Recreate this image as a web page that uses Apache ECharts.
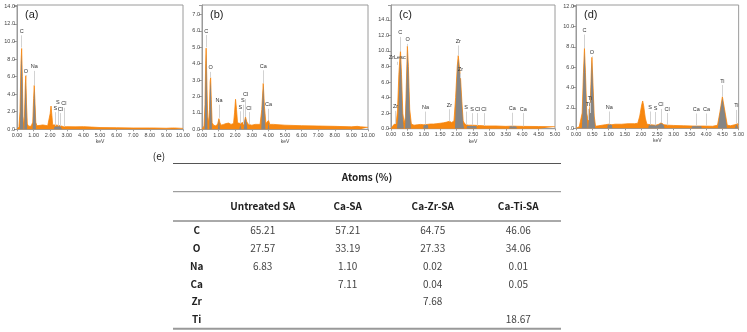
<!DOCTYPE html>
<html lang="en">
<head>
<meta charset="UTF-8">
<title>EDS spectra</title>
<script src="https://cdn.jsdelivr.net/npm/echarts@6/dist/echarts.min.js"></script>
</head>
<body style="margin:0;background:#fff">
<div id="main" style="width:747px;height:332px"></div>
<script type="text/javascript">
// spectra: [keV, counts]
var specA = [[0,0],[0.05,0.1],[0.12,0.3],[0.18,2.0],[0.24,7.5],[0.28,9.2],[0.32,6.0],[0.36,1.5],[0.40,0.5],[0.45,1.5],[0.50,5.0],[0.53,6.1],[0.57,3.0],[0.62,0.6],[0.70,0.35],[0.85,0.35],[0.95,0.8],[1.0,3.5],[1.04,5.0],[1.08,3.2],[1.13,0.8],[1.2,0.4],[1.4,0.45],[1.55,0.5],[1.7,0.45],[1.85,0.4],[1.95,0.5],[2.0,1.8],[2.05,2.65],[2.1,1.6],[2.15,0.5],[2.25,0.4],[2.31,0.5],[2.4,0.35],[2.62,0.4],[2.8,0.3],[3.0,0.3],[3.5,0.28],[4.0,0.3],[4.5,0.25],[5,0.2],[6,0.18],[7,0.15],[8,0.15],[8.1,0.22],[8.2,0.15],[9,0.12],[9.35,0.15],[9.42,0.3],[9.5,0.15],[10,0.1]];
var peaksA = [[0.17,0],[0.2,2],[0.24,6.8],[0.28,8.6],[0.32,5.5],[0.36,1.0],[0.39,0],null,[0.44,0],[0.48,3],[0.53,5.7],[0.57,2.6],[0.61,0],null,[0.94,0],[0.98,1.5],[1.04,4.7],[1.09,2.6],[1.14,0],null,[2.22,0],[2.26,0.3],[2.31,0.45],[2.38,0.3],[2.6,0.35],[2.7,0.25],[2.72,0]];
var marksA = [['C',0.28,9.3,10.7],['O',0.53,6.05,6.15],['Na',1.04,5.0,6.65],['S',2.31,0.4,1.95],['S',2.46,0.4,2.55],['Cl',2.62,0.35,1.85],['Cl',2.82,0.3,2.45]];

var specB = [[0,0],[0.05,0.05],[0.12,0.2],[0.18,1.5],[0.22,4.0],[0.25,4.95],[0.29,3.0],[0.34,0.8],[0.40,0.4],[0.45,1.2],[0.49,2.9],[0.52,3.15],[0.56,1.8],[0.61,0.4],[0.7,0.25],[0.85,0.2],[0.95,0.35],[1.02,0.65],[1.08,0.4],[1.15,0.25],[1.3,0.3],[1.45,0.35],[1.6,0.38],[1.75,0.3],[1.9,0.35],[1.96,1.0],[2.02,1.83],[2.08,1.2],[2.14,0.4],[2.2,0.3],[2.31,0.35],[2.4,0.25],[2.55,0.45],[2.62,0.75],[2.7,0.45],[2.8,0.3],[3.0,0.25],[3.2,0.3],[3.3,0.25],[3.5,0.3],[3.6,1.2],[3.69,2.8],[3.76,1.4],[3.85,0.35],[3.95,0.35],[4.01,0.55],[4.08,0.3],[4.3,0.3],[5,0.25],[6,0.22],[7,0.2],[8,0.18],[8.1,0.2],[9,0.15],[9.35,0.18],[9.45,0.25],[9.55,0.15],[10,0.12]];
var peaksB = [[0.16,0],[0.2,2.2],[0.25,4.7],[0.29,2.6],[0.33,0],null,[0.44,0],[0.48,2.4],[0.52,2.95],[0.56,1.5],[0.6,0],null,[0.96,0],[1.02,0.6],[1.08,0],null,[2.25,0],[2.31,0.3],[2.37,0],null,[2.52,0],[2.58,0.5],[2.62,0.7],[2.68,0.4],[2.73,0],null,[3.57,0],[3.62,1.4],[3.69,2.7],[3.75,1.3],[3.82,0],null,[3.96,0],[4.01,0.45],[4.06,0]];
var marksB = [['C',0.25,5.0,5.75],['O',0.52,3.15,3.5],['Na',1.02,0.7,1.5],['S',2.31,0.35,1.1],['S',2.46,0.3,1.5],['Cl',2.62,0.75,1.85],['Cl',2.82,0.3,1.05],['Ca',3.69,2.8,3.6],['Ca',4.01,0.55,1.25]];

var specC = [[0,0],[0.04,0.1],[0.08,0.5],[0.12,0.6],[0.16,0.7],[0.2,2.5],[0.24,7.0],[0.27,9.0],[0.29,10.0],[0.32,7.0],[0.36,2.0],[0.4,0.7],[0.44,1.5],[0.47,6.0],[0.5,10.6],[0.53,8.0],[0.57,2.5],[0.62,0.6],[0.7,0.45],[0.8,0.5],[0.9,0.55],[1.0,0.5],[1.1,0.55],[1.2,0.6],[1.3,0.6],[1.4,0.65],[1.5,0.7],[1.6,0.75],[1.7,0.85],[1.78,0.95],[1.85,0.8],[1.92,1.0],[1.97,4.0],[2.02,8.0],[2.05,9.4],[2.08,8.2],[2.12,6.5],[2.16,3.5],[2.2,1.0],[2.25,0.6],[2.35,0.45],[2.5,0.45],[2.7,0.4],[2.9,0.35],[3.2,0.35],[3.5,0.3],[3.7,0.33],[4.0,0.3],[4.5,0.28],[5,0.25]];
var peaksC = [[0.18,0],[0.22,1.5],[0.25,5.5],[0.28,9.5],[0.31,7.5],[0.35,1.8],[0.39,0],null,[0.43,0],[0.46,4],[0.5,10.2],[0.53,7.5],[0.57,2],[0.61,0],null,[0.98,0],[1.0,0.45],[1.12,0.5],[1.14,0],null,[1.95,0],[1.98,3.5],[2.02,7.6],[2.05,9.0],[2.08,7.8],[2.12,6.2],[2.16,3.0],[2.2,0.6],[2.23,0],null,[2.3,0],[2.32,0.35],[2.6,0.35],[2.62,0],null,[3.6,0],[3.62,0.3],[3.82,0.28],[3.84,0]];
var marksC = [['ZrLesc',0.19,8.2,8.6],['C',0.28,9.9,11.8],['O',0.51,10.6,10.9],['Zr',0.14,0.6,2.3],['Na',1.05,0.55,2.2],['Zr',1.78,0.95,2.5],['Zr',2.05,9.4,10.7],['Zr',2.12,6.5,7.1],['S',2.29,0.5,2.2],['S',2.47,0.45,2.0],['Cl',2.64,0.4,2.0],['Cl',2.83,0.35,2.0],['Ca',3.7,0.33,2.05],['Ca',4.03,0.3,2.0]];

var specD = [[0,0],[0.05,0.05],[0.1,0.15],[0.15,0.3],[0.19,1.5],[0.23,5.5],[0.26,7.85],[0.29,5.5],[0.33,1.5],[0.37,0.8],[0.4,1.2],[0.44,2.5],[0.47,5.5],[0.49,6.97],[0.52,4.5],[0.56,1.2],[0.6,0.2],[0.7,0.25],[0.8,0.3],[0.9,0.35],[1.0,0.4],[1.1,0.35],[1.2,0.4],[1.4,0.4],[1.6,0.45],[1.8,0.45],[1.9,0.5],[1.96,1.2],[2.02,2.3],[2.05,2.68],[2.08,2.2],[2.13,1.0],[2.18,0.4],[2.3,0.35],[2.45,0.3],[2.55,0.4],[2.62,0.55],[2.7,0.35],[2.85,0.3],[3.0,0.28],[3.3,0.25],[3.6,0.22],[3.9,0.22],[4.2,0.2],[4.35,0.3],[4.42,1.5],[4.5,3.1],[4.57,1.8],[4.65,0.3],[4.75,0.25],[4.88,0.35],[4.93,0.5],[4.97,0.45],[5,0.35]];
var peaksD = [[0.18,0],[0.2,1.5],[0.23,5.2],[0.26,7.5],[0.29,5.2],[0.33,1.2],[0.36,0],null,[0.37,0],[0.4,1.0],[0.44,2.3],[0.47,5.2],[0.49,6.7],[0.52,4.2],[0.56,1.0],[0.59,0],null,[0.96,0],[0.98,0.35],[1.1,0.35],[1.12,0],null,[2.22,0],[2.24,0.3],[2.5,0.28],[2.55,0.35],[2.62,0.5],[2.7,0.3],[2.72,0],null,[3.55,0],[3.57,0.2],[3.85,0.2],[3.87,0],null,[4.36,0],[4.42,1.4],[4.5,2.95],[4.57,1.6],[4.64,0],null,[4.88,0],[4.93,0.4],[4.98,0]];
var marksD = [['C',0.26,7.85,9.2],['O',0.49,6.97,7.05],['Ti',0.43,1.5,2.5],['Ti',0.37,0.8,1.9],['Na',1.02,0.4,1.65],['S',2.28,0.35,1.65],['S',2.45,0.3,1.6],['Cl',2.61,0.55,1.9],['Cl',2.8,0.3,1.5],['Ca',3.7,0.22,1.45],['Ca',4.01,0.22,1.45],['Ti',4.5,3.1,4.25],['Ti',4.93,0.5,1.8]];

var panelNames = ['(a)','(b)','(c)','(d)'];
var xMax = [10, 10, 5, 5];
var xStep = [1, 1, 0.5, 0.5];
var yMax = [14.15, 7.58, 15.9, 12.1];
var yStep = [2, 1, 2, 2];

// table (e)
var tableCols = ['Untreated SA', 'Ca-SA', 'Ca-Zr-SA', 'Ca-Ti-SA'];
var tableRows = ['C', 'O', 'Na', 'Ca', 'Zr', 'Ti'];
var untreatedSA = ['65.21', '27.57', '6.83', '', '', ''];
var caSA = ['57.21', '33.19', '1.10', '7.11', '', ''];
var caZrSA = ['64.75', '27.33', '0.02', '0.04', '7.68', ''];
var caTiSA = ['46.06', '34.06', '0.01', '0.05', '', '18.67'];

var orange = '#f7870f';
var grey = '#858585';
var gridPos = [[17, 166], [202, 166], [391, 164], [576, 163]];
var gridBottom = [129.3, 129.3, 128.7, 128.3];
var specs = [specA, specB, specC, specD];
var peaks = [peaksA, peaksB, peaksC, peaksD];
var marks = [marksA, marksB, marksC, marksD];

var grids = [], xAxes = [], yAxes = [], series = [], graphic = [];

for (var i = 0; i < 4; i++) {
    grids.push({
        left: gridPos[i][0], width: gridPos[i][1], top: 5, height: gridBottom[i] - 5,
        show: true, borderColor: '#9a9a9a', borderWidth: 1, backgroundColor: '#fff'
    });
    xAxes.push({
        type: 'value', gridIndex: i, min: 0, max: xMax[i], interval: xStep[i],
        name: 'keV', nameLocation: 'middle', nameGap: 10,
        nameTextStyle: {fontSize: 5, color: '#444'},
        axisLine: {lineStyle: {color: '#9a9a9a'}},
        axisTick: {length: 2, lineStyle: {color: '#9a9a9a'}},
        splitLine: {show: false},
        axisLabel: {fontSize: 5.5, color: '#444', margin: 3,
            formatter: function (v) { return v.toFixed(2); }}
    });
    (function (step) {
        yAxes.push({
            type: 'value', gridIndex: i, min: 0, max: yMax[i], interval: step,
            axisLine: {show: true, lineStyle: {color: '#9a9a9a'}},
            axisTick: {show: true, length: 3, lineStyle: {color: '#9a9a9a'}},
            splitLine: {show: false},
            axisLabel: {fontSize: 5.5, color: '#444', margin: 2,
                formatter: function (v) {
                    return Math.abs(v / step - Math.round(v / step)) < 1e-6 ? v.toFixed(1) : '';
                }}
        });
    })(yStep[i]);

    series.push({
        type: 'line', xAxisIndex: i, yAxisIndex: i, data: specs[i],
        symbol: 'none', smooth: false, z: 2,
        lineStyle: {color: orange, width: 0.8},
        areaStyle: {color: orange, opacity: 1},
        markLine: {
            silent: true, symbol: ['none', 'none'], animation: false,
            lineStyle: {color: '#d2d2d2', width: 1, type: 'solid'},
            label: {position: 'end', distance: 1, fontSize: 5.5, color: '#333',
                formatter: function (p) { return p.name; }},
            data: marks[i].map(function (m) {
                return [{name: m[0], coord: [m[1], m[2]]}, {coord: [m[1], m[3]]}];
            })
        }
    });
    series.push({
        type: 'line', xAxisIndex: i, yAxisIndex: i, data: peaks[i],
        symbol: 'none', connectNulls: false, z: 3,
        lineStyle: {width: 0},
        areaStyle: {color: grey, opacity: 1}
    });

    graphic.push({
        type: 'text', left: gridPos[i][0] + 8, top: 9,
        style: {text: panelNames[i], fontSize: 11, fontFamily: 'Liberation Sans', fill: '#222'}
    });
}

// table drawing
var colX = [262.7, 347.7, 432.7, 518.3];
var rowLabelX = 196.7;
var rowY0 = 230.7, rowStep = 17.7;
var tableFont = '"Noto Sans CJK JP", "Noto Sans", sans-serif';
var columns = [untreatedSA, caSA, caZrSA, caTiSA];

function hline(y, w, c) {
    graphic.push({type: 'line', shape: {x1: 173, y1: y, x2: 561, y2: y},
        style: {stroke: c, lineWidth: w}});
}
function txt(x, y, s, bold, color, size) {
    graphic.push({type: 'text', x: x, y: y,
        style: {text: s, fontSize: size || 10, fontFamily: tableFont, fontWeight: bold ? 'bold' : 'normal',
            fill: color, textAlign: 'center', textVerticalAlign: 'middle'}});
}
txt(159, 156, '(e)', false, '#222', 10);
hline(163.5, 1, '#555');
txt(367, 177, 'Atoms (%)', true, '#222');
hline(191.7, 1, '#888');
for (var c = 0; c < tableCols.length; c++) txt(colX[c], 206.7, tableCols[c], true, '#222');
hline(221, 1, '#555');
for (var r = 0; r < tableRows.length; r++) {
    var y = rowY0 + r * rowStep;
    txt(rowLabelX, y, tableRows[r], true, '#222');
    for (var c2 = 0; c2 < columns.length; c2++) {
        if (columns[c2][r] !== '') txt(colX[c2], y, columns[c2][r], false, '#444');
    }
}
hline(328.7, 2, '#999');

var myChart = echarts.init(document.getElementById('main'));
myChart.setOption({
    animation: false,
    textStyle: {fontFamily: 'Liberation Sans'},
    grid: grids,
    xAxis: xAxes,
    yAxis: yAxes,
    series: series,
    graphic: graphic
});
</script>
</body>
</html>
